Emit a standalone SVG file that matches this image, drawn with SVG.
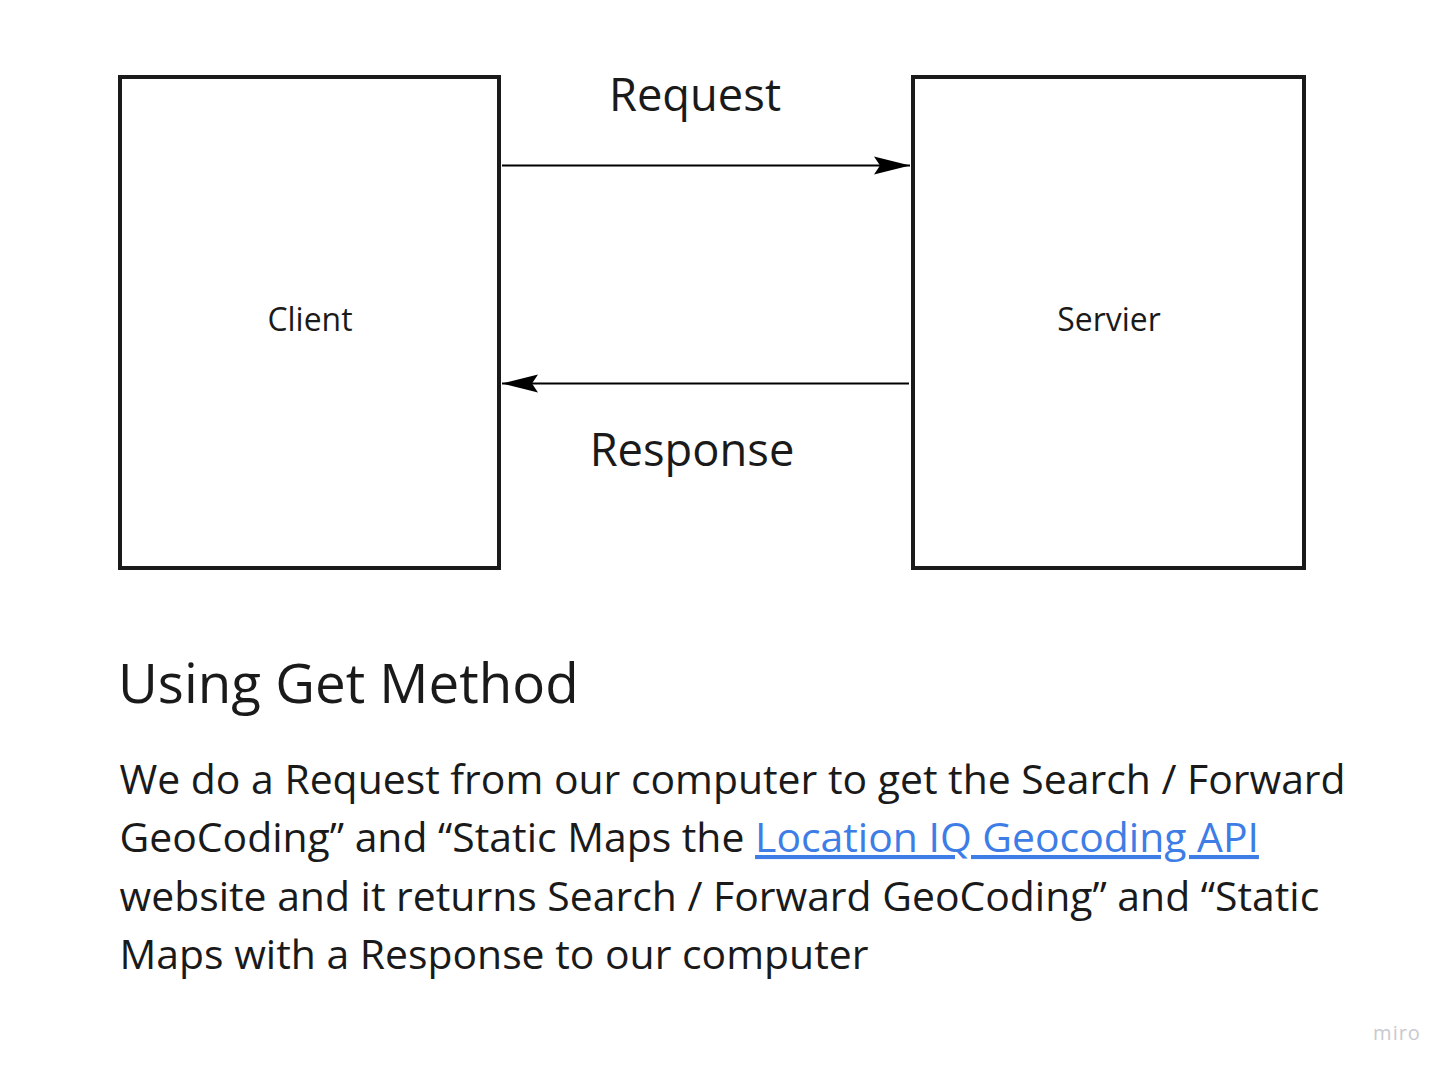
<svg xmlns="http://www.w3.org/2000/svg" width="1454" height="1074" viewBox="0 0 1454 1074">
<style>
text{font-family:"Open Sans","Noto Sans","Liberation Sans",sans-serif;fill:#1a1a1a}
.box{fill:#fff;stroke:#1a1a1a;stroke-width:4}
.conn{stroke:#000;stroke-width:2;fill:none}
.lbl{font-size:45.3px;text-anchor:middle}
.node{font-size:31.9px;text-anchor:middle}
.body{font-size:40.9px}
.link{fill:#3d7de5;text-decoration:underline}
</style>
<defs>
<marker id="ah" viewBox="0 0 36 20" refX="36" refY="10" markerWidth="36" markerHeight="20" markerUnits="userSpaceOnUse" orient="auto">
<path d="M0,1 L36,10 L0,19 L6,10 Z" fill="#000"/>
</marker>
</defs>
<rect width="1454" height="1074" fill="#fff"/>
<g id="client"><rect class="box" x="120" y="77" width="379" height="491"/><text class="node" x="310" y="331">Client</text></g>
<g id="servier"><rect class="box" x="913" y="77" width="391" height="491"/><text class="node" x="1109" y="331">Servier</text></g>
<g id="connectors">
<line class="conn" x1="502" y1="165.5" x2="910" y2="165.5" marker-end="url(#ah)"/>
<line class="conn" x1="909" y1="383.5" x2="502" y2="383.5" marker-end="url(#ah)"/>
</g>
<text class="lbl" x="695" y="111">Request</text>
<text class="lbl" x="692" y="466">Response</text>
<text x="118" y="703" font-size="54.7">Using Get Method</text>
<text class="body" x="119.5" y="794">We do a Request from our computer to get the Search / Forward</text>
<text class="body" x="119.5" y="852">GeoCoding” and “Static Maps the <tspan class="link">Location IQ Geocoding API</tspan></text>
<text class="body" x="119.5" y="911">website and it returns Search / Forward GeoCoding” and “Static</text>
<text class="body" x="119.5" y="969">Maps with a Response to our computer</text>
<text x="1397" y="1040" font-size="20" style="fill:#c9c9d1;text-anchor:middle;letter-spacing:1px">miro</text>
</svg>
